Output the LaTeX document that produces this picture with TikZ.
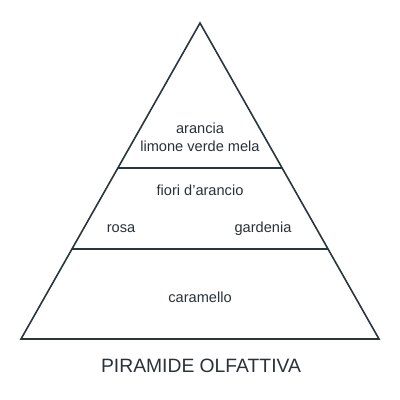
\documentclass[tikz,border=0pt]{standalone}
\usepackage{fontspec}
\setmainfont{Liberation Sans}
\definecolor{ink}{HTML}{2B353C}
\definecolor{txt}{HTML}{2A3238}
\begin{document}
\begin{tikzpicture}[x=1pt,y=-1pt,
  edge/.style={draw=ink,line width=1.6pt,line join=miter},
  lbl/.style={text=txt,font=\fontsize{14.6}{17}\selectfont,inner sep=0pt,anchor=base},
  ttl/.style={text=txt,font=\fontsize{19.3}{22}\selectfont,inner sep=0pt,anchor=base}]
\useasboundingbox (0,0) rectangle (400,400);
\fill[white] (0,0) rectangle (400,400);
\coordinate (apex) at (200,23);
\coordinate (bl) at (21,339);
\coordinate (br) at (379,339);
\coordinate (l1) at (118,168);
\coordinate (r1) at (282,168);
\coordinate (l2) at (72,249);
\coordinate (r2) at (328,249);
\draw[edge] (apex) -- (br) -- (bl) -- cycle;
\draw[edge] (l1) -- (r1);
\draw[edge] (l2) -- (r2);
\node[lbl] (t1) at (200,133) {arancia};
\node[lbl] (t2) at (200,151) {limone verde mela};
\node[lbl] (t3) at (200,195) {fiori d’arancio};
\node[lbl] (t4) at (121,232) {rosa};
\node[lbl] (t5) at (263,232) {gardenia};
\node[lbl] (t6) at (200,302) {caramello};
\node[ttl] (tt) at (201,372) {PIRAMIDE OLFATTIVA};
\end{tikzpicture}
\end{document}
